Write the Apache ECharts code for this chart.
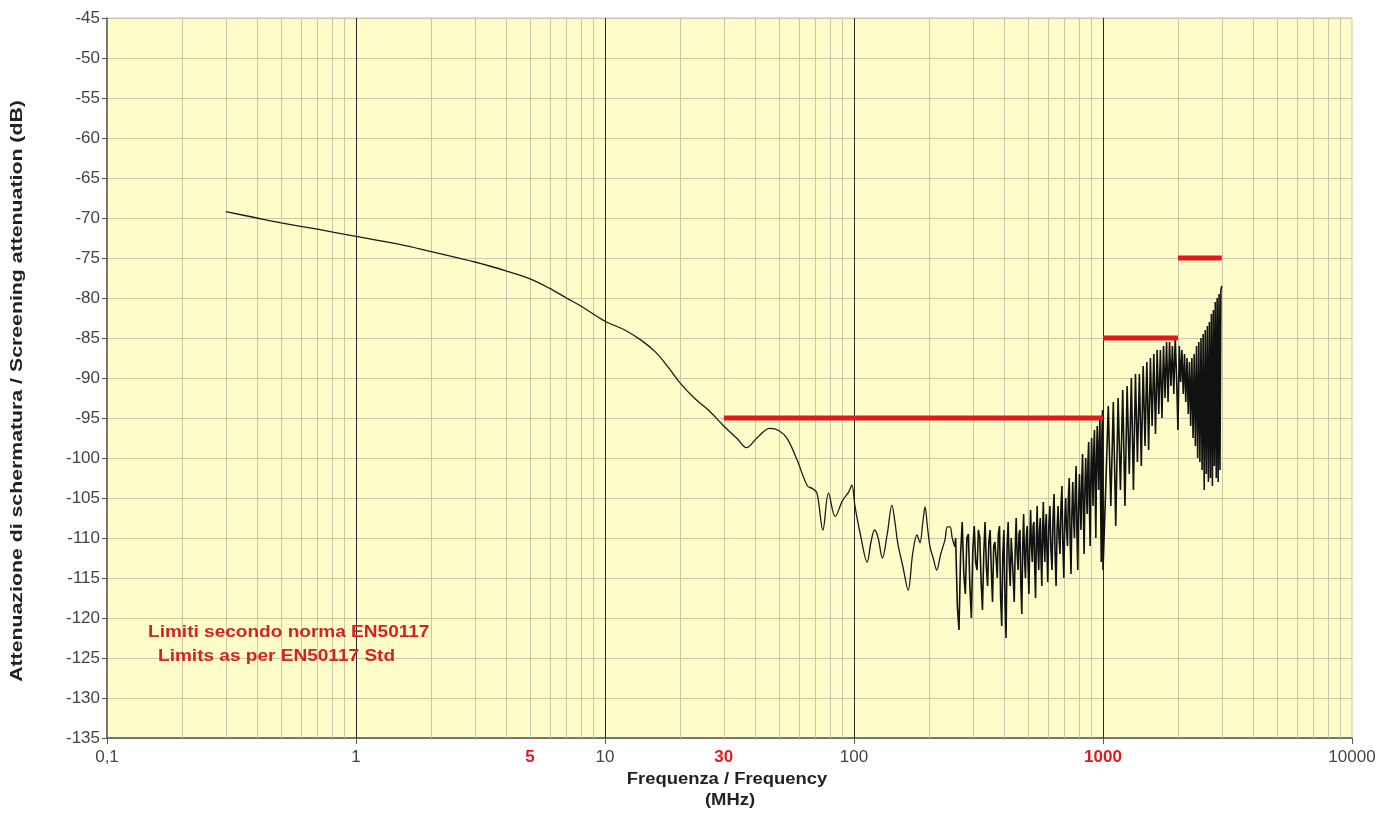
<!DOCTYPE html>
<html>
<head>
<meta charset="utf-8">
<script src="https://cdn.jsdelivr.net/npm/echarts@6/dist/echarts.min.js"></script>
<style>
html,body{margin:0;padding:0;background:#fff;}
#chart{width:1397px;height:832px;}
</style>
</head>
<body>
<div id="chart"></div>
<script>
// Smooth low-frequency part of the measured curve (MHz, dB)
const smoothFreq = [0.3,0.4,0.5,0.7,1,1.5,2,3,4,5,6,7,8,10,12,14,16,18,20,23,26,30,34,37,41,46,50,54,59,65,68,71,75,79,84,90,95,98,101,106,113,117,121,125,130,136,142,146,150,157,165,172,179,184,189,193,197,202,208,215,223,232,237,243,248,254];
const smoothDb = [-69.2,-70.0,-70.6,-71.4,-72.3,-73.3,-74.2,-75.5,-76.6,-77.6,-78.8,-80.0,-81.0,-82.9,-84.0,-85.3,-86.8,-88.7,-90.6,-92.6,-94.0,-96.0,-97.6,-98.7,-97.4,-96.3,-96.6,-97.6,-100.2,-103.5,-103.8,-104.4,-109.0,-104.4,-107.3,-105.3,-104.3,-103.4,-106.1,-109.5,-113.0,-110.5,-109.0,-110.0,-112.5,-109.5,-105.9,-108.0,-110.7,-113.5,-116.5,-112.0,-109.6,-110.6,-108.0,-106.1,-108.5,-111.1,-112.5,-114.0,-112.0,-110.2,-108.6,-108.6,-110.0,-111.1];

// Noisy high-frequency part (MHz, dB)
const noiseFreq = [254,256,260,264,268,272,276,280,284,288,292,296,300,304,308,312,316,320,324,328,332,336,340,344,348,352,356,360,364,368,372,376,380,384,388,392,396,400,404,408,412,416,420,424,428,432,436,440,444,448,452,456,460,464,468,472,476,480,484,488,492,496,500,504,508,512,516,520,524,528,532,536,540,544,548,552,556,560,564,568,572,576,580,584,588,592,596,600,
606,612,618,624,630,636,642,648,654,660,666,672,678,684,690,696,702,708,714,720,726,732,738,744,750,756,762,768,774,780,786,792,798,804,810,816,822,828,834,840,846,852,858,864,870,876,882,888,894,900,906,912,918,924,930,936,942,948,954,960,966,972,978,984,990,996,1000,
1025,1050,1075,1100,1125,1150,1175,1200,1225,1250,1275,1300,1325,1350,1375,1400,1425,1450,1475,1500,1525,1550,1575,1600,1625,1650,1675,1700,1725,1750,1775,1800,1825,1850,1875,1900,1925,1950,1975,2000,
2025,2050,2075,2100,2125,2150,2175,2200,2225,2250,2275,2300,2325,2350,2375,2400,2425,2450,2475,2500,2525,2550,2575,2600,2625,2650,2675,2700,2725,2750,2775,2800,2825,2850,2875,2900,2925,2950,2975,3000];
const noiseDb = [-111.1,-110,-118.5,-121.5,-112,-108,-114.5,-117,-110,-109.5,-116,-120,-111.5,-108.5,-113,-114,-109,-110,-115.5,-119,-112,-108,-113.5,-116,-110.5,-109,-114,-118,-111,-110.5,-112.5,-115,-109.5,-108.5,-117.5,-121,-112,-109,-118,-122.5,-111,-108,-113,-116,-110,-110,-115,-118,-111.5,-107.5,-112,-114,-109.5,-109,-116,-119.5,-111,-107,-112.5,-115,-110,-108.5,-113.5,-117,-110.5,-106.5,-111,-113,-108.5,-108,-114,-117.5,-110,-106,-111.5,-114,-109,-107.5,-113,-116,-109,-105.5,-110.5,-113,-108.5,-107,-112,-115.5,
-108.5,-106,-111.5,-114,-107.5,-104.5,-112,-116,-109,-106,-110,-112,-106,-103.5,-111,-115,-108,-105,-109,-111,-105,-102.5,-110,-114.5,-107,-103,-107.5,-110,-104,-101,-109.5,-114,-106,-102,-106,-109,-102.5,-99.5,-107,-112,-104,-100,-104,-107,-100.5,-98,-106,-111,-102,-97.5,-102.5,-106,-99,-96.5,-104,-110,-100,-96,-100,-104,-98,-95,-105,-113,-97,-94,-114,
-104,-93.5,-106,-93,-108.5,-92.5,-104,-91.5,-106,-91,-102,-90,-104,-89.5,-100.5,-89.5,-101,-88.5,-98.5,-88,-99,-87.5,-96,-87,-97,-86.5,-94.5,-86.5,-95,-86,-92.5,-85.5,-93,-85.5,-91,-86,-92,-85,-90,-96.5,
-86,-90.5,-86.5,-92,-87,-93,-87.5,-94.5,-88,-96,-87.5,-97.5,-87,-98.5,-86,-100,-85.5,-100.5,-85,-101.5,-84.5,-104,-84,-102,-83.5,-103,-83,-102.5,-82,-103.5,-81.5,-101,-80.5,-102.5,-80,-103,-79.5,-101.5,-79,-78.5];

// EN50117 limits: [from MHz, to MHz, dB]
const limitFrom = [30, 1000, 2000];
const limitTo = [1000, 2000, 3000];
const limitDb = [-95, -85, -75];

// Axis ticks / labels
const xLabelValues = [0.1, 1, 5, 10, 30, 100, 1000, 10000];
const xRedLabels = [5, 30, 1000];
const majorGrid = [1, 10, 100, 1000];
const minorGrid = [0.2,0.3,0.4,0.5,0.6,0.7,0.8,0.9,2,3,4,5,6,7,8,9,20,30,40,50,60,70,80,90,200,300,400,500,600,700,800,900,2000,3000,4000,5000,6000,7000,8000,9000];

const chart = echarts.init(document.getElementById('chart'));
const FONT = '"Liberation Sans", Arial, sans-serif';

const pairs = (xs, ys) => xs.map((x, i) => [x, ys[i]]);

const series = [
  {
    type: 'line', data: [], silent: true, z: 1,
    markLine: {
      silent: true, symbol: ['none', 'none'], label: {show: false},
      lineStyle: {color: '#c9c7a9', width: 1, type: 'solid'},
      data: minorGrid.map(v => ({xAxis: v}))
    }
  },
  {
    type: 'line', data: [], silent: true, z: 2,
    markLine: {
      silent: true, symbol: ['none', 'none'], label: {show: false},
      lineStyle: {color: '#2a2a2a', width: 1, type: 'solid'},
      data: majorGrid.map(v => ({xAxis: v}))
    }
  },
  {
    type: 'line', data: pairs(smoothFreq, smoothDb), smooth: 0.35,
    showSymbol: false, z: 5,
    lineStyle: {color: '#1a1a1a', width: 1.3}
  },
  {
    type: 'line', data: pairs(noiseFreq, noiseDb),
    showSymbol: false, z: 5,
    lineStyle: {color: '#111', width: 1.6}
  }
];
limitDb.forEach((db, i) => {
  series.push({
    type: 'line', data: [[limitFrom[i], db], [limitTo[i], db]],
    showSymbol: false, z: 6,
    lineStyle: {color: '#e3191b', width: 5, cap: 'butt'}
  });
});

chart.setOption({
  animation: false,
  textStyle: {fontFamily: FONT},
  grid: {
    left: 107, right: 45, top: 18, bottom: 94,
    show: true, backgroundColor: '#fefdca', borderColor: '#c9c7a9', borderWidth: 1
  },
  xAxis: {
    type: 'log', logBase: 10, min: 0.1, max: 10000,
    axisLine: {show: true, lineStyle: {color: '#555', width: 1.5}},
    axisTick: {show: true, length: 6, inside: false, lineStyle: {color: '#555'}},
    splitLine: {show: false},
    minorTick: {show: false},
    axisLabel: {
      customValues: xLabelValues,
      margin: 11,
      fontFamily: FONT, fontSize: 17, color: '#444',
      formatter: function (v) {
        const r = Math.round(v * 10) / 10;
        if (xRedLabels.indexOf(r) >= 0) return '{red|' + r + '}';
        return String(r).replace('.', ',');
      },
      rich: {red: {color: '#e3191b', fontWeight: 'bold', fontSize: 17, fontFamily: FONT}}
    }
  },
  yAxis: {
    type: 'value', min: -135, max: -45, interval: 5,
    axisLine: {show: true, lineStyle: {color: '#555', width: 1.5}},
    axisTick: {show: true, length: 5, inside: false, lineStyle: {color: '#555'}},
    splitLine: {show: true, lineStyle: {color: '#c9c7a9', width: 1}},
    axisLabel: {fontFamily: FONT, fontSize: 17, color: '#444', margin: 7}
  },
  graphic: [
    {
      type: 'text', x: 727, y: 780, scaleX: 1.15, z: 20,
      style: {text: 'Frequenza / Frequency', fill: '#222', font: 'bold 16px ' + FONT, align: 'center', verticalAlign: 'middle'}
    },
    {
      type: 'text', x: 730, y: 801, scaleX: 1.15, z: 20,
      style: {text: '(MHz)', fill: '#222', font: 'bold 16px ' + FONT, align: 'center', verticalAlign: 'middle'}
    },
    {
      type: 'text', x: 18, y: 391, rotation: Math.PI / 2, scaleX: 1.33, z: 20,
      style: {text: 'Attenuazione di schermatura / Screening attenuation (dB)', fill: '#222', font: 'bold 16px ' + FONT, align: 'center', verticalAlign: 'middle'}
    },
    {
      type: 'text', x: 148, y: 633, scaleX: 1.19, z: 20,
      style: {text: 'Limiti secondo norma EN50117', fill: '#d42121', font: 'bold 16px ' + FONT, verticalAlign: 'middle'}
    },
    {
      type: 'text', x: 158, y: 657, scaleX: 1.19, z: 20,
      style: {text: 'Limits as per EN50117 Std', fill: '#d42121', font: 'bold 16px ' + FONT, verticalAlign: 'middle'}
    }
  ],
  series: series
});
</script>
</body>
</html>
